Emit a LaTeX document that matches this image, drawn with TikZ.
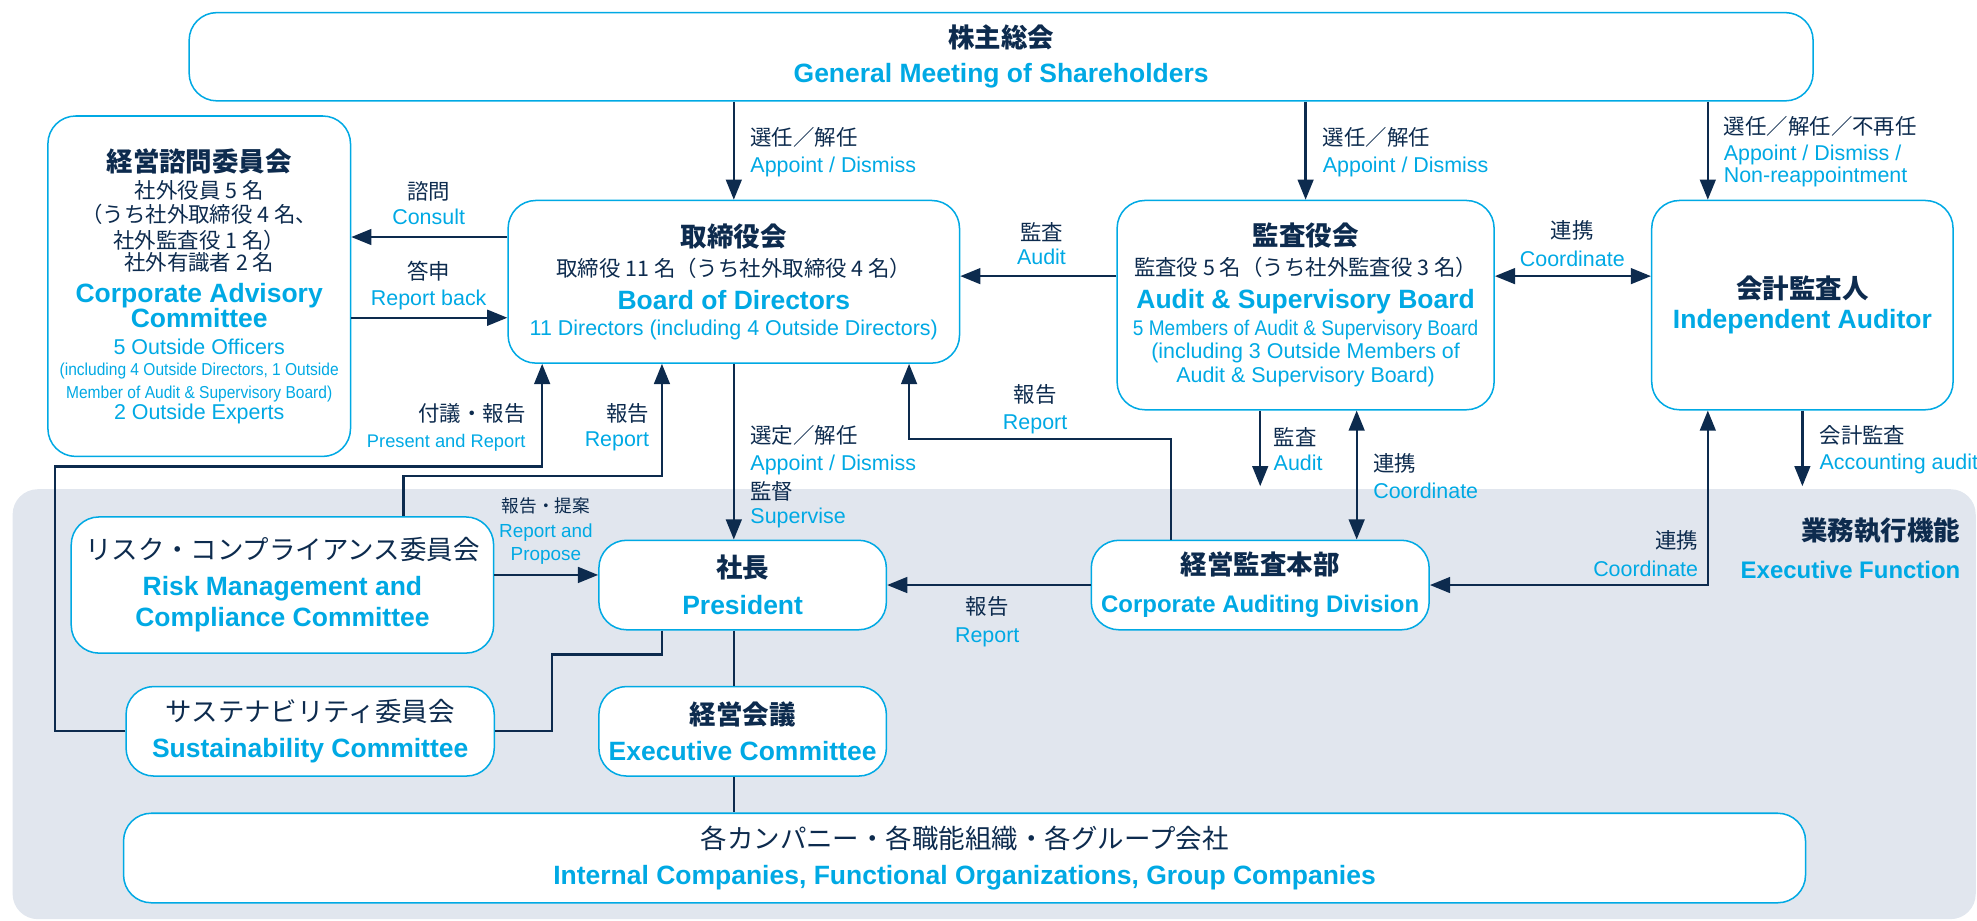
\documentclass[tikz,border=0pt]{standalone}
\usepackage{fontspec}
\setmainfont{Liberation Sans}
\newfontfamily\jp{Noto Sans CJK JP}
\newfontfamily\narrow[FakeStretch=0.9]{Liberation Sans}
\usetikzlibrary{arrows.meta}

\definecolor{navy}{HTML}{0D2B4E}
\definecolor{sky}{HTML}{00A9E4}
\definecolor{panel}{HTML}{E1E6EE}

% text pieces
\newcommand\fixlines{\lineskiplimit=-100pt\relax}
\newcommand\jt[1]{{\jp\bfseries\fontsize{21}{20}\selectfont\color{navy}#1}}
\newcommand\jr[1]{{\jp\fontsize{21}{20}\selectfont\color{navy}#1}}
\newcommand\et[1]{{\bfseries\fontsize{21}{20}\selectfont\color{sky}#1}}
\newcommand\js[1]{{\jp\color{navy}#1}}
\newcommand\es[1]{{\color{sky}#1}}

\tikzset{
  box/.style={draw=sky, line width=1.2pt, fill=white, rounded corners=22pt,
    align=center, inner sep=0pt, font=\fontsize{17}{20}\selectfont\fixlines},
  lbl/.style={inner sep=0pt, align=left, font=\fontsize{17}{21}\selectfont\fixlines},
  link/.style={draw=navy, line width=1.8pt},
  arr/.style={link, -{Triangle[length=16pt,width=12.5pt]}},
  arrs/.style={link, {Triangle[length=16pt,width=12.5pt]}-{Triangle[length=16pt,width=12.5pt]}},
}

\begin{document}
\begin{tikzpicture}[x=1pt,y=-1pt]
  \useasboundingbox (0,0) rectangle (1568,730);
  \fill[panel,rounded corners=20pt] (10,388) rectangle (1567,729); % executive function area

  % boxes
  \node[box,minimum width=1288pt,minimum height=70pt] (gms) at (794,45)
    {\jt{株主総会}\\[8pt]\et{General Meeting of Shareholders}};
  \node[box,minimum width=240pt,minimum height=270pt] (cac) at (158,227)
    {\jt{経営諮問委員会}\\[2pt]
     \js{社外役員 5 名}\\[-1pt]
     \js{（うち社外取締役 4 名、}\\
     \js{社外監査役 1 名）}\\[-2pt]
     \js{社外有識者 2 名}\\[5pt]
     \et{Corporate Advisory}\\
     \et{Committee}\\[1pt]
     \es{5 Outside Officers}\\[-3pt]
     {\narrow\fontsize{13.7}{20}\selectfont\color{sky}(including 4 Outside Directors, 1 Outside}\\[-2pt]
     {\narrow\fontsize{13.7}{20}\selectfont\color{sky}Member of Audit \& Supervisory Board)}\\[-3pt]
     \es{2 Outside Experts}};
  \node[box,minimum width=358pt,minimum height=129pt] (bod) at (582,223.5)
    {\jt{取締役会}\\[4pt]
     \js{取締役 11 名（うち社外取締役 4 名）}\\[6pt]
     \et{Board of Directors}\\[1pt]
     \es{11 Directors (including 4 Outside Directors)}};
  \node[box,minimum width=299pt,minimum height=166pt] (asb) at (1035.5,242)
    {\jt{監査役会}\\[4pt]
     \js{監査役 5 名（うち社外監査役 3 名）}\\[6pt]
     \et{Audit \& Supervisory Board}\\[1pt]
     {\narrow\fontsize{16.8}{20}\selectfont\color{sky}5 Members of Audit \& Supervisory Board}\\[-1pt]
     \es{(including 3 Outside Members of}\\[-1pt]
     \es{Audit \& Supervisory Board)}};
  \node[box,minimum width=239pt,minimum height=166pt] (ia) at (1429.5,242)
    {\jt{会計監査人}\\[4pt]\et{Independent Auditor}};
  \node[box,minimum width=335pt,minimum height=108pt] (rmcc) at (224,464)
    {\jr{リスク・コンプライアンス委員会}\\[8pt]\et{Risk Management and}\\[5pt]\et{Compliance Committee}};
  \node[box,minimum width=228pt,minimum height=71pt] (pres) at (589,464)
    {\jt{社長}\\[9pt]\et{President}};
  \node[box,minimum width=268pt,minimum height=71pt] (cad) at (999.5,464)
    {\jt{経営監査本部}\\[10pt]{\bfseries\fontsize{19}{20}\selectfont\color{sky}Corporate Auditing Division}};
  \node[box,minimum width=292pt,minimum height=71pt] (sus) at (246,580)
    {\jr{サステナビリティ委員会}\\[9pt]\et{Sustainability Committee}};
  \node[box,minimum width=228pt,minimum height=71pt] (exe) at (589,580)
    {\jt{経営会議}\\[9pt]\et{Executive Committee}};
  \node[box,minimum width=1334pt,minimum height=71pt] (grp) at (765,680.5)
    {\jr{各カンパニー・各職能組織・各グループ会社}\\[9pt]\et{Internal Companies, Functional Organizations, Group Companies}};
  \node[lbl,anchor=east,align=right] (exf) at (1555,435)
    {\jt{業務執行機能}\\[9pt]{\bfseries\fontsize{19}{20}\selectfont\color{sky}Executive Function}};

  % labels
  \foreach \x/\n in {595/lapb,1049/lapa}
    \node[lbl,anchor=west] (\n) at (\x,120.5) {\js{選任／解任}\\\es{Appoint / Dismiss}};
  \node[lbl,anchor=west] (lapi) at (1367,120)
    {\js{選任／解任／不再任}\\\es{Appoint / Dismiss /}\\[-4pt]\es{Non-reappointment}};
  \node[lbl,align=center] (lcon) at (340,161) {\js{諮問}\\[-1pt]\es{Consult}};
  \node[lbl,align=center] (lrb) at (340,226.5) {\js{答申}\\\es{Report back}};
  \node[lbl,align=center] (laud) at (826,193.5) {\js{監査}\\[-2pt]\es{Audit}};
  \node[lbl,align=center] (lcoa) at (1247,193) {\js{連携}\\[1pt]\es{Coordinate}};
  \node[lbl,anchor=east,align=right] (lpr) at (417,339)
    {\js{付議・報告}\\[-1pt]{\fontsize{14.5}{20}\selectfont\color{sky}Present and Report}};
  \node[lbl,anchor=east,align=right] (lrep) at (515,339) {\js{報告}\\[-1pt]\es{Report}};
  \node[lbl,anchor=west] (lsup) at (595,378)
    {\js{選定／解任}\\\es{Appoint / Dismiss}\\[2pt]\js{監督}\\[-2pt]\es{Supervise}};
  \node[lbl,align=center] (lrcd) at (821,324.5) {\js{報告}\\\es{Report}};
  \node[lbl,anchor=west] (laud2) at (1010,356) {\js{監査}\\[-1pt]\es{Audit}};
  \node[lbl,anchor=west] (lcoc) at (1089,377.5) {\js{連携}\\\es{Coordinate}};
  \node[lbl,anchor=west] (lacc) at (1443,356.5) {\js{会計監査}\\\es{Accounting audit}};
  \node[lbl,align=center] (lrp) at (433,421)
    {{\jp\fontsize{14}{20}\selectfont\color{navy}報告・提案}\\[-1pt]
     {\fontsize{15}{20}\selectfont\color{sky}Report and}\\[-3pt]
     {\fontsize{15}{20}\selectfont\color{sky}Propose}};
  \node[lbl,align=center] (lrpr) at (783,493) {\js{報告}\\[1pt]\es{Report}};
  \node[lbl,anchor=east,align=right] (lcoi) at (1347,439) {\js{連携}\\[1pt]\es{Coordinate}};

  % connectors
  \coordinate (acctip) at ([yshift=-60pt]ia.south);
  \coordinate (audtip) at ([yshift=-60pt]cad.north |- asb.south);
  \draw[arr] (bod.north |- gms.south) -- (bod.north);
  \draw[arr] (asb.north |- gms.south) -- (asb.north);
  \draw[arr] ([xshift=-75pt]ia.north |- gms.south) -- ([xshift=-75pt]ia.north);
  \draw[arr] ([yshift=35.5pt]bod.west) -- ([yshift=35.5pt]bod.west -| cac.east);   % consult
  \draw[arr] ([yshift=-28.5pt]bod.west -| cac.east) -- ([yshift=-28.5pt]bod.west); % report back
  \draw[arr] ([yshift=23pt]asb.west) -- ([yshift=23pt]asb.west -| bod.east);
  \draw[arrs] ([yshift=23pt]asb.east) -- ([yshift=23pt]asb.east -| ia.west);
  \draw[arr] (ia.south) -- (acctip);
  \draw[arr] (cad.north |- asb.south) -- (audtip);
  \draw[arrs] ([xshift=40.5pt]asb.south) -- ([xshift=40.5pt]asb.south |- cad.north);
  \draw[arrs] ([xshift=-75pt]ia.south) |- (cad.east);
  \draw[arr] ([xshift=-70.5pt]cad.north) -- ++(0,-80) -| ([xshift=139pt]bod.south);
  \draw[arr] (bod.south) -- (bod.south |- pres.north);
  \draw[arr] ([yshift=8pt]rmcc.east) -- ([yshift=8pt]rmcc.east -| pres.west);
  \draw[arr] (cad.west) -- (pres.east);
  \draw[arr] ([xshift=96pt]rmcc.north) -- ++(0,-32) -| ([xshift=-57pt]bod.south);
  \draw[arr] (sus.west) -- ++(-56,0) -- ++(0,-210) -| ([xshift=-152pt]bod.south);
  \draw[link] ([xshift=-64pt]pres.south) -- ++(0,19) -- ++(-87,0) |- (sus.east);
  \draw[link] (pres.south -| bod.south) -- (exe.north -| bod.south);
  \draw[link] (exe.south -| bod.south) -- (grp.north -| bod.south);
\end{tikzpicture}
\end{document}
